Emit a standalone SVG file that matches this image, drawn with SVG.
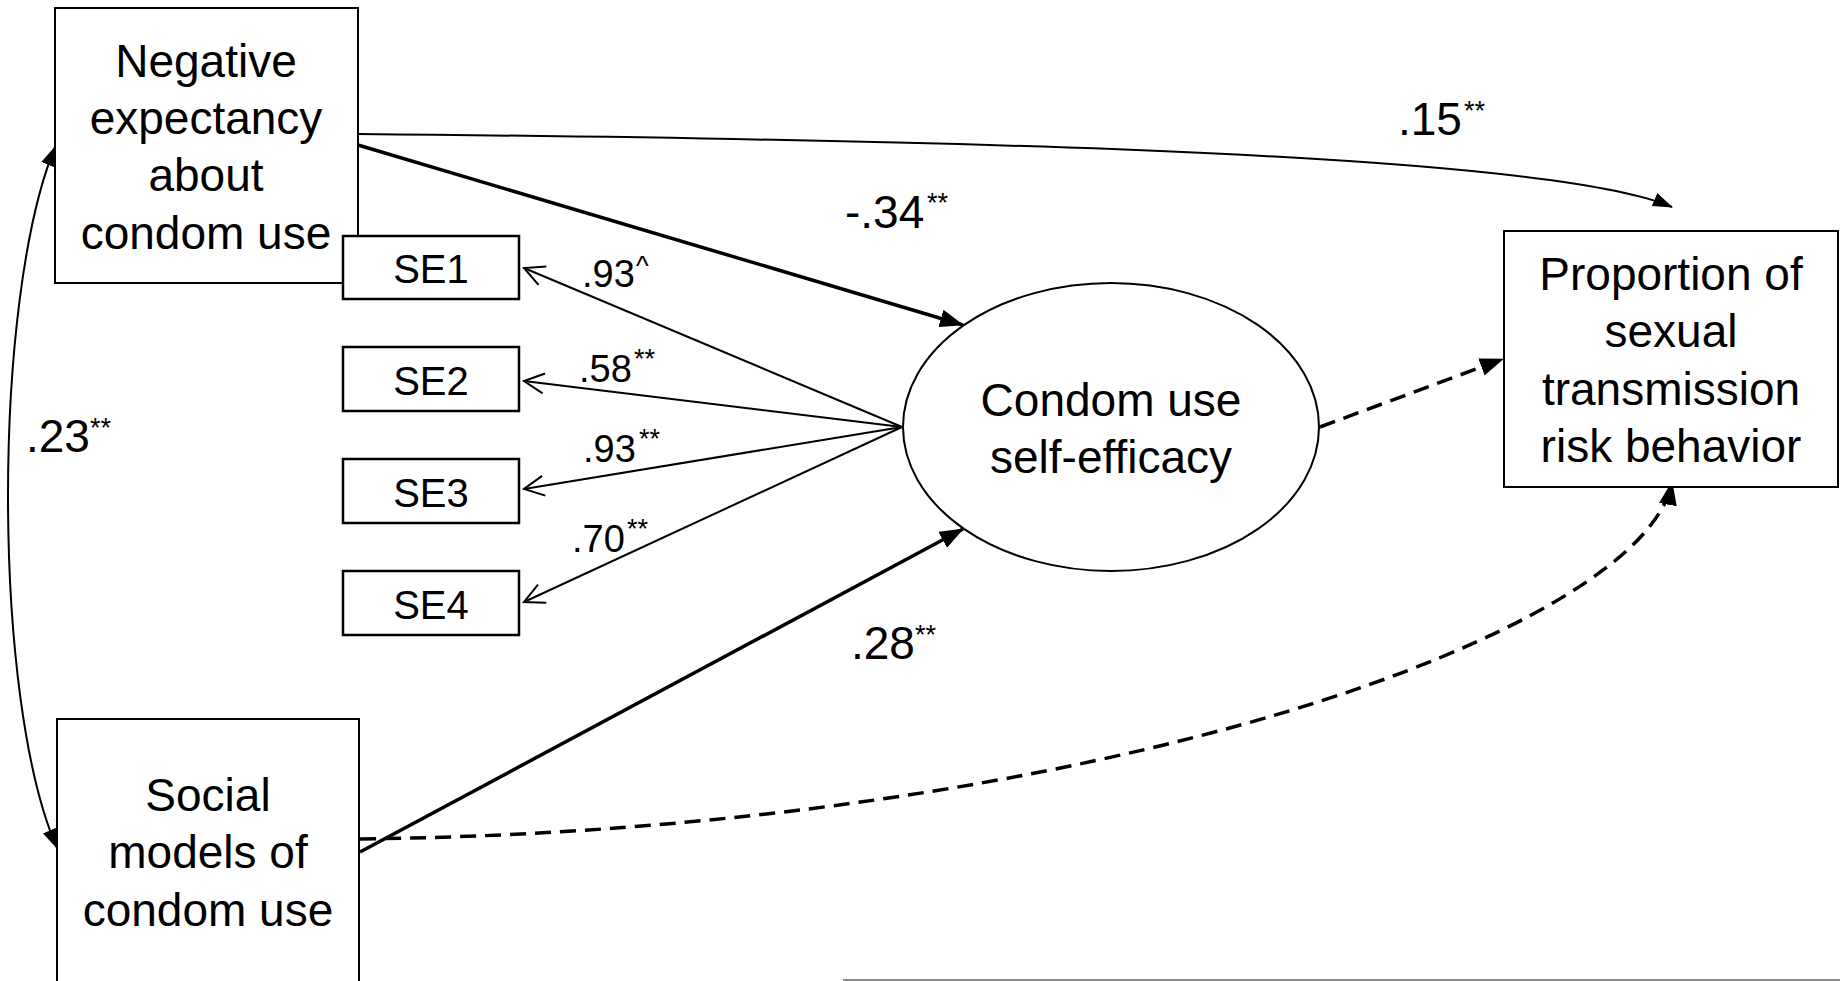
<svg xmlns="http://www.w3.org/2000/svg" width="1840" height="981" viewBox="0 0 1840 981">
<style>
text{font-family:"Liberation Sans",Arial,sans-serif;fill:#000}
.lbl{font-size:46px;text-anchor:middle}
.se{font-size:40px;text-anchor:middle}
.coef{font-size:46px}
.load{font-size:38px}
.sup{font-size:27px}
.box{fill:#fff;stroke:#000;stroke-width:2}
.sebox{fill:#fff;stroke:#000;stroke-width:2.5}
.thick{fill:none;stroke:#000;stroke-width:3.5}
.thin{fill:none;stroke:#000;stroke-width:2}
.load-ln{fill:none;stroke:#000;stroke-width:2}
.dash{fill:none;stroke:#000;stroke-width:3.5;stroke-dasharray:16 9}
</style>
<defs>
<marker id="ah" markerUnits="userSpaceOnUse" markerWidth="24" markerHeight="18" viewBox="0 0 24 18" refX="23" refY="9" orient="auto">
<path d="M0,0 L24,9 L0,18 z" fill="#000"/>
</marker>
<marker id="ahs" markerUnits="userSpaceOnUse" markerWidth="20" markerHeight="14" viewBox="0 0 20 14" refX="19" refY="7" orient="auto-start-reverse">
<path d="M0,0 L20,7 L0,14 z" fill="#000"/>
</marker>
<marker id="open" markerUnits="userSpaceOnUse" markerWidth="24" markerHeight="24" viewBox="0 0 24 24" refX="22" refY="12" orient="auto">
<path d="M2,2 L22,12 L2,22" fill="none" stroke="#000" stroke-width="2"/>
</marker>
</defs>
<rect width="1840" height="981" fill="#fff"/>
<line x1="843" y1="980" x2="1840" y2="980" stroke="#888" stroke-width="2"/>

<g id="connectors">
<path class="thin" d="M55,147 C-8,300 -8,700 57,848" marker-start="url(#ahs)" marker-end="url(#ahs)"/>
<path class="thin" d="M358,134 C1000,140 1550,155 1672,207" marker-end="url(#ahs)"/>
<line class="thick" x1="358" y1="145" x2="963" y2="325" marker-end="url(#ah)"/>
<line class="thick" x1="360" y1="852" x2="963" y2="529" marker-end="url(#ah)"/>
<line class="dash" x1="1320" y1="427" x2="1503" y2="359" marker-end="url(#ah)"/>
<path class="dash" d="M360,839 C1100,830 1645,630 1672,482" marker-end="url(#ah)"/>
<line class="load-ln" x1="902" y1="427" x2="524" y2="268" marker-end="url(#open)"/>
<line class="load-ln" x1="902" y1="427" x2="524" y2="381" marker-end="url(#open)"/>
<line class="load-ln" x1="902" y1="427" x2="524" y2="489" marker-end="url(#open)"/>
<line class="load-ln" x1="902" y1="427" x2="524" y2="602" marker-end="url(#open)"/>
</g>

<g id="node-negative">
<rect class="box" x="55" y="8" width="303" height="275"/>
<text class="lbl" x="206" y="77">Negative</text>
<text class="lbl" x="206" y="134">expectancy</text>
<text class="lbl" x="206" y="191">about</text>
<text class="lbl" x="206" y="249">condom use</text>
</g>

<g id="node-social">
<rect class="box" x="57" y="719" width="302" height="280"/>
<text class="lbl" x="208" y="811">Social</text>
<text class="lbl" x="208" y="868">models of</text>
<text class="lbl" x="208" y="926">condom use</text>
</g>

<g id="node-se1">
<rect class="sebox" x="343" y="236" width="176" height="63"/>
<text class="se" x="431" y="283">SE1</text>
</g>
<g id="node-se2">
<rect class="sebox" x="343" y="347" width="176" height="64"/>
<text class="se" x="431" y="395">SE2</text>
</g>
<g id="node-se3">
<rect class="sebox" x="343" y="459" width="176" height="64"/>
<text class="se" x="431" y="507">SE3</text>
</g>
<g id="node-se4">
<rect class="sebox" x="343" y="571" width="176" height="64"/>
<text class="se" x="431" y="619">SE4</text>
</g>

<g id="node-efficacy">
<ellipse cx="1111" cy="427" rx="208" ry="144" fill="#fff" stroke="#000" stroke-width="2"/>
<text class="lbl" x="1111" y="416">Condom use</text>
<text class="lbl" x="1111" y="473">self-efficacy</text>
</g>

<g id="node-proportion">
<rect class="box" x="1504" y="231" width="334" height="256"/>
<text class="lbl" x="1671" y="290">Proportion of</text>
<text class="lbl" x="1671" y="347">sexual</text>
<text class="lbl" x="1671" y="405">transmission</text>
<text class="lbl" x="1671" y="462">risk behavior</text>
</g>

<g id="labels">
<text class="coef" x="1398" y="135">.15<tspan class="sup" x="1464" y="120">**</tspan></text>
<text class="coef" x="845" y="228">-.34<tspan class="sup" x="927" y="212">**</tspan></text>
<text class="coef" x="851" y="659">.28<tspan class="sup" x="915" y="644">**</tspan></text>
<text class="coef" x="26" y="452">.23<tspan class="sup" x="90" y="437">**</tspan></text>
<text class="load" x="582" y="287">.93<tspan class="sup" x="636" y="275">^</tspan></text>
<text class="load" x="579" y="382">.58<tspan class="sup" x="634" y="368">**</tspan></text>
<text class="load" x="583" y="462">.93<tspan class="sup" x="639" y="448">**</tspan></text>
<text class="load" x="572" y="552">.70<tspan class="sup" x="627" y="538">**</tspan></text>
</g>
</svg>
